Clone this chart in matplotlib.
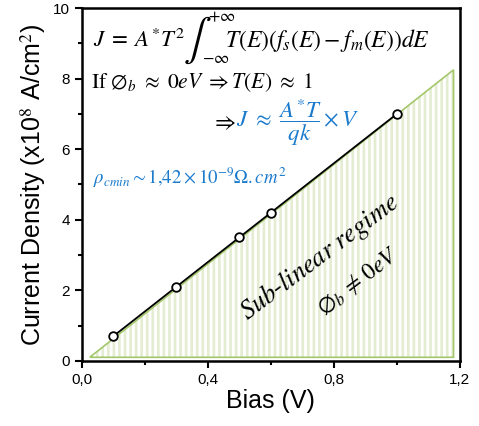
import matplotlib
matplotlib.use("Agg")
import matplotlib.pyplot as plt
import numpy as np
from matplotlib.ticker import MultipleLocator, FuncFormatter

plt.rcParams['font.family'] = ['Liberation Sans', 'DejaVu Sans']
plt.rcParams['mathtext.fontset'] = 'stix'
plt.rcParams['hatch.linewidth'] = 1.9

# ---- data ----
bias = [0.1, 0.3, 0.5, 0.6, 1.0]
current = [0.7, 2.1, 3.5, 4.2, 7.0]
region_x = [0.025, 1.18, 1.18]
region_y = [0.1, 8.25, 0.1]

BLUE = "#1a7acc"
GREEN = "#a3c76a"
STRIPE = "#e4ecd2"

fig = plt.figure(figsize=(4.79, 4.26), dpi=100)
ax = fig.add_axes([0.171, 0.153, 0.789, 0.828])

# sub-linear region, vertical stripes
ax.fill(region_x, region_y, facecolor="none", edgecolor=STRIPE, hatch="|||", lw=0, zorder=1)
ax.fill(region_x, region_y, facecolor="none", edgecolor=GREEN, lw=1.2, zorder=2)

ax.plot(bias, current, "-", color="black", lw=1.3, zorder=3)
ax.plot(bias, current, "o", mfc="white", mec="black", mew=1.3, ms=6.2, zorder=4)

ax.set_xlim(0, 1.2)
ax.set_ylim(0, 10)
ax.xaxis.set_major_locator(MultipleLocator(0.4))
ax.xaxis.set_minor_locator(MultipleLocator(0.2))
ax.yaxis.set_major_locator(MultipleLocator(2))
ax.yaxis.set_minor_locator(MultipleLocator(1))
ax.xaxis.set_major_formatter(FuncFormatter(lambda v, p: f"{v:.1f}".replace(".", ",")))
ax.tick_params(which="both", direction="out", width=1.5, labelsize=11, top=False, right=False)
ax.tick_params(which="major", length=5)
ax.tick_params(which="minor", length=3)
for s in ax.spines.values():
    s.set_linewidth(1.8)

ax.set_xlabel("Bias (V)", fontsize=18, labelpad=2)
ax.set_ylabel(r"Current Density (x10$^{8}$ A/cm$^{2}$)", fontsize=18, labelpad=4)

# equations
FS = 16.5
ax.text(0.035, 9.09, r"$J\;=\;A^{*}T^{2}$", fontsize=FS, va="center", ha="left")
ax.text(0.322, 9.09, r"$\int$", fontsize=30, va="center", ha="left")
ax.text(0.40, 9.74, r"$+\infty$", fontsize=12, va="center", ha="left")
ax.text(0.38, 8.56, r"$-\infty$", fontsize=12, va="center", ha="left")
ax.text(0.455, 9.09, r"$T(E)\left(f_s(E)-f_m(E)\right)dE$", fontsize=17, va="center", ha="left")

ax.text(0.03, 7.9, r"$\mathrm{If}\ \emptyset_b\ \approx\ 0eV\ \Rightarrow T(E)\ \approx\ 1$",
        fontsize=15.5, va="center", ha="left")
ax.text(0.41, 6.75, r"$\Rightarrow$", fontsize=FS, va="center", ha="left")
ax.text(0.49, 6.75, r"$J\ \approx\ \dfrac{A^{*}T}{qk}\times V$", fontsize=FS, va="center",
        ha="left", color=BLUE)
ax.text(0.035, 5.18, r"$\rho_{cmin}\sim 1{,}42\times10^{-9}\Omega.cm^{2}$", fontsize=13.5,
        va="center", ha="left", color=BLUE)

ax.text(0.756, 2.95, r"$Sub$-$linear\ regime$", fontsize=19, rotation=37,
        ha="center", va="center")
ax.text(0.88, 2.25, r"$\emptyset_b\,\neq\,0eV$", fontsize=17, rotation=37,
        ha="center", va="center")

fig.savefig("out.png", dpi=100)
